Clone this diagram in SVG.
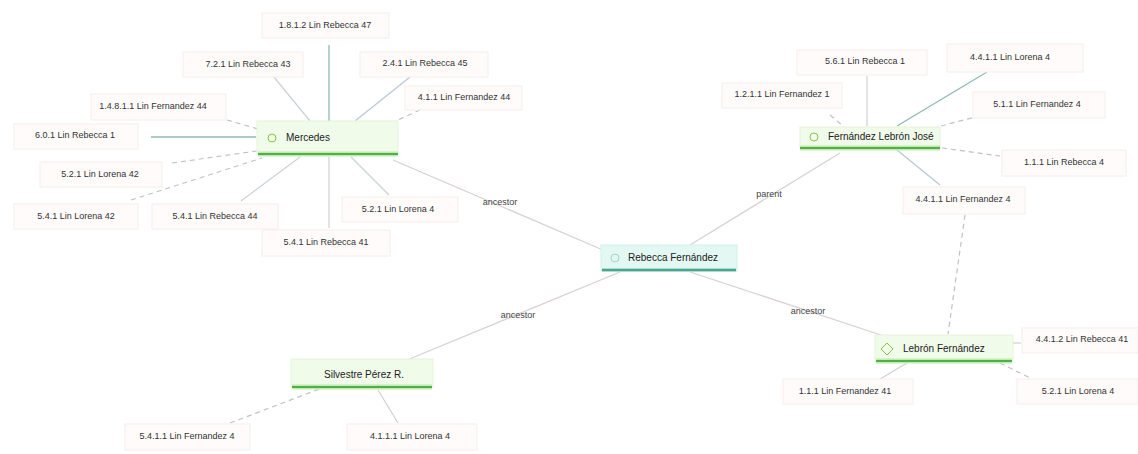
<svg xmlns="http://www.w3.org/2000/svg" width="1138" height="454" viewBox="0 0 1138 454">
<style>
text{font-family:"Liberation Sans","DejaVu Sans",sans-serif;fill:#333}
.leaf rect{fill:#fefbfa;stroke:#f5eeea;stroke-width:1}
.leaf text{font-size:9px;text-anchor:middle;dominant-baseline:middle}
.hub rect{fill:#f1fbea;stroke:#e6f4da;stroke-width:1}
.hub text{font-size:10px;dominant-baseline:middle;fill:#222}
.halo{stroke:#c4eaab;stroke-width:5}
.ul{stroke:#4caf50;stroke-width:2}
.icon{fill:none;stroke:#8bc34a;stroke-width:1}
.c{fill:none;stroke:#cdd1d4;stroke-width:1.2}
.t{fill:none;stroke:#92b8b3;stroke-width:1.3}
.b{fill:none;stroke:#b6c8d9;stroke-width:1.2}
.d{fill:none;stroke:#bcc2c7;stroke-width:1.2;stroke-dasharray:5 4}
.m{fill:none;stroke:#d8d1d5;stroke-width:1.3}
.lbl{font-size:9px;text-anchor:middle;dominant-baseline:middle;fill:#444}
</style>
<rect width="1138" height="454" fill="#ffffff"/>

<g id="connectors">
  <path class="m" d="M393 160 L603 250"/>
  <path class="m" d="M840 153 L690 245"/>
  <path class="m" d="M690 272 L890 338"/>
  <path class="m" d="M620 272 L407 360"/>

  <path class="t" d="M329 45 L329 121"/>
  <path class="c" d="M269 71 L310 121"/>
  <path class="b" d="M410 77 L355 121"/>
  <path class="d" d="M420 110 L389 124"/>
  <path class="d" d="M227 120 L258 129"/>
  <path class="t" d="M151 137 L256 137"/>
  <path class="d" d="M172 163 L257 151"/>
  <path class="d" d="M131 200 L262 158"/>
  <path class="c" d="M241 201 L300 157"/>
  <path class="c" d="M329 157 L329 228"/>
  <path class="c" d="M351 157 L389 195"/>

  <path class="c" d="M867 76 L867 126"/>
  <path class="t" d="M897 126 L987 72"/>
  <path class="d" d="M830 115 L842 125"/>
  <path class="d" d="M941 126 L975 117"/>
  <path class="d" d="M942 148 L1000 156"/>
  <path class="b" d="M897 150 L940 185"/>
  <path class="d" d="M965 215 L948 334"/>

  <path class="c" d="M1013 343 L1021 343"/>
  <path class="c" d="M907 363 L880 379"/>
  <path class="d" d="M1000 363 L1030 378"/>

  <path class="d" d="M230 423 L322 388"/>
  <path class="c" d="M378 390 L398 423"/>

  <text class="lbl" x="500" y="203">ancestor</text>
  <text class="lbl" x="769" y="195">parent</text>
  <text class="lbl" x="808" y="312">ancestor</text>
  <text class="lbl" x="518" y="316">ancestor</text>
</g>

<g id="center" class="hub">
  <rect x="601" y="245" width="136" height="26" style="fill:#e3f8f3;stroke:#d3f0e9"/>
  <line x1="602" y1="270" x2="736" y2="270" style="stroke:#a9ddcf;stroke-width:4"/>
  <line x1="602" y1="270" x2="736" y2="270" style="stroke:#2f8f78;stroke-width:1.6"/>
  <circle cx="615" cy="258" r="4" style="fill:none;stroke:#9fd6c6;stroke-width:1"/>
  <text x="628" y="258">Rebecca Fernández</text>
</g>

<g id="hub-mercedes" class="hub">
  <rect x="257" y="121" width="141" height="33"/>
  <line class="halo" x1="258" y1="154" x2="398" y2="154"/>
  <line class="ul" x1="258" y1="154" x2="398" y2="154"/>
  <circle class="icon" cx="272" cy="138" r="4"/>
  <text x="286" y="138">Mercedes</text>
</g>

<g id="hub-topright" class="hub">
  <rect x="800" y="127" width="140" height="21"/>
  <line class="halo" x1="800" y1="148" x2="940" y2="148"/>
  <line class="ul" x1="800" y1="148" x2="940" y2="148"/>
  <circle class="icon" cx="814" cy="137" r="4"/>
  <text x="828" y="137">Fernández Lebrón José</text>
</g>

<g id="hub-bottomright" class="hub">
  <rect x="875" y="335" width="138" height="26"/>
  <line class="halo" x1="876" y1="361" x2="1012" y2="361"/>
  <line class="ul" x1="876" y1="361" x2="1012" y2="361"/>
  <path class="icon" d="M887 343 L893 349 L887 355 L881 349 Z"/>
  <text x="903" y="349">Lebrón Fernández</text>
</g>

<g id="hub-bottomleft" class="hub">
  <rect x="291" y="359" width="142" height="28"/>
  <line class="halo" x1="292" y1="387" x2="432" y2="387"/>
  <line class="ul" x1="292" y1="387" x2="432" y2="387"/>
  <text x="364" y="375" style="text-anchor:middle">Silvestre Pérez R.</text>
</g>

<g id="leaf-1" class="leaf"><rect x="262" y="13" width="127" height="25"/><text x="325" y="26">1.8.1.2 Lin Rebecca 47</text></g>
<g id="leaf-2" class="leaf"><rect x="183" y="52" width="120" height="25"/><text x="248" y="65">7.2.1 Lin Rebecca 43</text></g>
<g id="leaf-3" class="leaf"><rect x="360" y="52" width="128" height="25"/><text x="425" y="64">2.4.1 Lin Rebecca 45</text></g>
<g id="leaf-4" class="leaf"><rect x="405" y="86" width="117" height="24"/><text x="464" y="98">4.1.1 Lin Fernandez 44</text></g>
<g id="leaf-5" class="leaf"><rect x="91" y="94" width="135" height="26"/><text x="153" y="107">1.4.8.1.1 Lin Fernandez 44</text></g>
<g id="leaf-6" class="leaf"><rect x="14" y="124" width="124" height="25"/><text x="75" y="136">6.0.1 Lin Rebecca 1</text></g>
<g id="leaf-7" class="leaf"><rect x="40" y="162" width="122" height="25"/><text x="100" y="175">5.2.1 Lin Lorena 42</text></g>
<g id="leaf-8" class="leaf"><rect x="14" y="204" width="124" height="25"/><text x="76" y="217">5.4.1 Lin Lorena 42</text></g>
<g id="leaf-9" class="leaf"><rect x="152" y="204" width="126" height="25"/><text x="215" y="217">5.4.1 Lin Rebecca 44</text></g>
<g id="leaf-10" class="leaf"><rect x="342" y="197" width="116" height="25"/><text x="398" y="210">5.2.1 Lin Lorena 4</text></g>
<g id="leaf-11" class="leaf"><rect x="262" y="230" width="128" height="26"/><text x="326" y="243">5.4.1 Lin Rebecca 41</text></g>

<g id="leaf-12" class="leaf"><rect x="797" y="50" width="130" height="25"/><text x="865" y="62">5.6.1 Lin Rebecca 1</text></g>
<g id="leaf-13" class="leaf"><rect x="947" y="44" width="136" height="28"/><text x="1010" y="58">4.4.1.1 Lin Lorena 4</text></g>
<g id="leaf-14" class="leaf"><rect x="722" y="83" width="120" height="25"/><text x="782" y="95">1.2.1.1 Lin Fernandez 1</text></g>
<g id="leaf-15" class="leaf"><rect x="973" y="92" width="132" height="26"/><text x="1037" y="105">5.1.1 Lin Fernandez 4</text></g>
<g id="leaf-16" class="leaf"><rect x="1002" y="150" width="124" height="26"/><text x="1064" y="163">1.1.1 Lin Rebecca 4</text></g>
<g id="leaf-17" class="leaf"><rect x="903" y="187" width="122" height="27"/><text x="963" y="200">4.4.1.1 Lin Fernandez 4</text></g>

<g id="leaf-18" class="leaf"><rect x="1022" y="328" width="116" height="25"/><text x="1082" y="340">4.4.1.2 Lin Rebecca 41</text></g>
<g id="leaf-19" class="leaf"><rect x="783" y="379" width="130" height="25"/><text x="845" y="392">1.1.1 Lin Fernandez 41</text></g>
<g id="leaf-20" class="leaf"><rect x="1017" y="379" width="121" height="25"/><text x="1078" y="392">5.2.1 Lin Lorena 4</text></g>

<g id="leaf-21" class="leaf"><rect x="125" y="424" width="125" height="26"/><text x="187" y="437">5.4.1.1 Lin Fernandez 4</text></g>
<g id="leaf-22" class="leaf"><rect x="347" y="424" width="130" height="26"/><text x="410" y="437">4.1.1.1 Lin Lorena 4</text></g>
</svg>
